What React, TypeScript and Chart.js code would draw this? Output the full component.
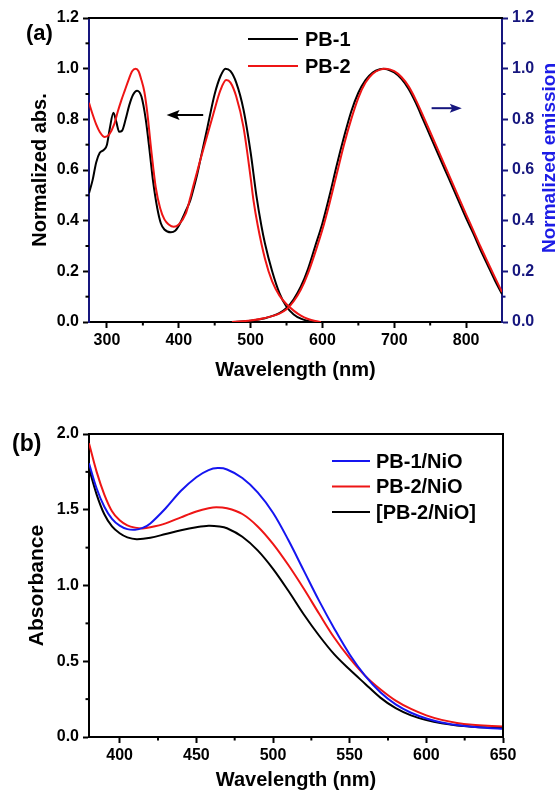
import React, { useEffect, useRef } from "react";
import { Chart, registerables } from "chart.js";

Chart.register(...registerables);

const FONT = "'Liberation Sans', Arial, Helvetica, sans-serif";
const NAVY = "#16167e";
const TITLE_BLUE = "#1c1ce6";
const RED = "#ee1515";
const BLUE = "#1515f0";
const BLACK = "#000000";

// ---------- Panel (a) data: [wavelength nm, normalized value] ----------
const pb1Abs: [number, number][] = [
  [275, 0.508], [280, 0.56], [285, 0.63], [290, 0.668], [296, 0.68], [300, 0.70], [304, 0.765],
  [309, 0.826], [313, 0.79], [317, 0.751], [321, 0.755], [326, 0.8], [331, 0.855], [336, 0.895],
  [342, 0.913], [348, 0.89], [354, 0.8], [360, 0.66], [364, 0.56], [370, 0.45], [375, 0.39],
  [380, 0.365], [389, 0.354], [395, 0.36], [400, 0.38], [410, 0.44], [416, 0.48], [420, 0.52],
  [425, 0.575], [430, 0.64], [440, 0.77], [450, 0.9], [458, 0.97], [465, 1.0], [472, 0.99],
  [480, 0.945], [490, 0.84], [500, 0.67], [508, 0.5], [515, 0.38], [520, 0.31], [530, 0.2],
  [540, 0.115], [550, 0.06], [560, 0.03], [570, 0.013], [580, 0.004], [592, 0.0],
];
const pb2Abs: [number, number][] = [
  [275, 0.865], [280, 0.82], [285, 0.78], [290, 0.75], [297, 0.73], [303, 0.74], [310, 0.78],
  [315, 0.83], [320, 0.875], [325, 0.915], [330, 0.955], [335, 0.99], [340, 1.0], [344, 0.99],
  [348, 0.955], [352, 0.91], [356, 0.83], [362, 0.67], [368, 0.53], [374, 0.45], [380, 0.405],
  [386, 0.385], [393, 0.376], [400, 0.385], [410, 0.43], [416, 0.49], [420, 0.535], [430, 0.64],
  [440, 0.74], [448, 0.82], [458, 0.915], [466, 0.955], [472, 0.945], [480, 0.89], [490, 0.77],
  [500, 0.57], [504, 0.48], [510, 0.38], [520, 0.25], [530, 0.16], [540, 0.105], [550, 0.07],
  [560, 0.045], [570, 0.025], [580, 0.012], [590, 0.004], [598, 0.0],
];
const pb1Em: [number, number][] = [
  [475, 0.0], [500, 0.005], [520, 0.015], [540, 0.035], [550, 0.055], [560, 0.09], [570, 0.14],
  [580, 0.21], [590, 0.3], [600, 0.39], [610, 0.5], [620, 0.62], [630, 0.73], [640, 0.83],
  [650, 0.905], [660, 0.955], [670, 0.985], [680, 0.998], [685, 1.0], [690, 0.998], [700, 0.985],
  [710, 0.96], [720, 0.92], [730, 0.865], [740, 0.8], [750, 0.735], [760, 0.67], [770, 0.605],
  [780, 0.54], [790, 0.475], [800, 0.41], [810, 0.35], [820, 0.285], [830, 0.225], [840, 0.165],
  [850, 0.11],
];
const pb2Em: [number, number][] = [
  [474, 0.0], [500, 0.006], [520, 0.016], [540, 0.033], [550, 0.05], [560, 0.082], [570, 0.128],
  [580, 0.193], [590, 0.275], [600, 0.365], [610, 0.47], [620, 0.585], [630, 0.7], [640, 0.8],
  [650, 0.885], [660, 0.945], [670, 0.98], [680, 0.996], [688, 1.0], [700, 0.99], [710, 0.967],
  [720, 0.93], [730, 0.877], [740, 0.815], [750, 0.75], [760, 0.685], [770, 0.62], [780, 0.555],
  [790, 0.49], [800, 0.425], [810, 0.362], [820, 0.298], [830, 0.237], [840, 0.177], [850, 0.118],
];
const xTicksA = [300, 400, 500, 600, 700, 800];
const xMinorA = [350, 450, 550, 650, 750];
const yTicksA = [0, 0.2, 0.4, 0.6, 0.8, 1.0, 1.2];
const yMinorA = [0.1, 0.3, 0.5, 0.7, 0.9, 1.1];
const legendA = ["PB-1", "PB-2"];
// arrow annotations: [tail wavelength, head wavelength, value]
const absArrow = [434, 383, 0.817];
const emArrow = [752, 794, 0.844];

// ---------- Panel (b) data ----------
const pb1NiO: [number, number][] = [
  [380, 1.807], [385, 1.64], [390, 1.52], [395, 1.44], [400, 1.395], [405, 1.372], [410, 1.368],
  [415, 1.38], [420, 1.41], [430, 1.51], [440, 1.625], [450, 1.715], [458, 1.762], [464, 1.775],
  [470, 1.766], [480, 1.71], [490, 1.615], [500, 1.48], [510, 1.3], [520, 1.1], [530, 0.9],
  [540, 0.715], [550, 0.545], [560, 0.405], [570, 0.295], [580, 0.215], [590, 0.16], [600, 0.122],
  [610, 0.096], [620, 0.079], [630, 0.067], [640, 0.06], [650, 0.055],
];
const pb2NiO: [number, number][] = [
  [380, 1.939], [385, 1.75], [390, 1.6], [395, 1.49], [400, 1.43], [405, 1.397], [410, 1.382],
  [415, 1.377], [420, 1.384], [430, 1.41], [440, 1.45], [450, 1.488], [458, 1.51], [463, 1.517],
  [470, 1.51], [480, 1.472], [490, 1.39], [500, 1.275], [510, 1.135], [520, 0.98], [530, 0.815],
  [540, 0.655], [550, 0.52], [560, 0.405], [570, 0.315], [580, 0.24], [590, 0.185], [600, 0.143],
  [610, 0.113], [620, 0.093], [630, 0.081], [640, 0.074], [650, 0.07],
];
const pb2NiOb: [number, number][] = [
  [380, 1.774], [385, 1.6], [390, 1.47], [395, 1.39], [400, 1.345], [405, 1.318], [411, 1.306],
  [420, 1.315], [430, 1.34], [440, 1.365], [450, 1.385], [458, 1.395], [465, 1.39], [470, 1.378],
  [480, 1.322], [490, 1.232], [500, 1.11], [510, 0.965], [520, 0.81], [530, 0.67], [540, 0.545],
  [550, 0.445], [560, 0.352], [570, 0.26], [580, 0.19], [590, 0.143], [600, 0.112], [610, 0.09],
  [620, 0.076], [630, 0.068], [640, 0.063], [650, 0.06],
];
const xTicksB = [400, 450, 500, 550, 600, 650];
const xMinorB = [425, 475, 525, 575, 625];
const yTicksB = [0, 0.5, 1.0, 1.5, 2.0];
const yMinorB = [0.25, 0.75, 1.25, 1.75];
const legendB = ["PB-1/NiO", "PB-2/NiO", "[PB-2/NiO]"];

const pts = (arr: [number, number][]) => arr.map(([x, y]) => ({ x, y }));

function minorTicks(spec: { axis: string; values: number[]; color: string }[]) {
  return {
    id: "minorTicks",
    afterDraw(chart: any) {
      const ctx = chart.ctx;
      spec.forEach((s) => {
        const scale = chart.scales[s.axis];
        ctx.save();
        ctx.strokeStyle = s.color;
        ctx.lineWidth = 2;
        s.values.forEach((v) => {
          const p = scale.getPixelForValue(v);
          ctx.beginPath();
          if (scale.isHorizontal()) {
            ctx.moveTo(p, scale.top);
            ctx.lineTo(p, scale.top + 3.5);
          } else if (scale.position === "left") {
            ctx.moveTo(scale.right, p);
            ctx.lineTo(scale.right - 3.5, p);
          } else {
            ctx.moveTo(scale.left, p);
            ctx.lineTo(scale.left + 3.5, p);
          }
          ctx.stroke();
        });
        ctx.restore();
      });
    },
  };
}

function drawArrow(ctx: any, x1: number, x2: number, y: number, color: string, headLen: number, headHalf: number) {
  const dir = Math.sign(x2 - x1);
  ctx.save();
  ctx.strokeStyle = color;
  ctx.fillStyle = color;
  ctx.lineWidth = 2;
  ctx.beginPath();
  ctx.moveTo(x1, y);
  ctx.lineTo(x2 - dir * headLen * 0.7, y);
  ctx.stroke();
  ctx.beginPath();
  ctx.moveTo(x2, y);
  ctx.lineTo(x2 - dir * headLen, y - headHalf);
  ctx.lineTo(x2 - dir * headLen * 0.8, y);
  ctx.lineTo(x2 - dir * headLen, y + headHalf);
  ctx.closePath();
  ctx.fill();
  ctx.restore();
}

function drawLegend(ctx: any, chart: any, labels: string[], x1: number, x2: number, tx: number, y0: number, dy: number) {
  ctx.save();
  ctx.font = `bold 20px ${FONT}`;
  ctx.textAlign = "left";
  ctx.textBaseline = "middle";
  labels.forEach((lab, i) => {
    const ds = chart.data.datasets.find((d: any) => d.label === lab);
    const y = y0 + i * dy;
    ctx.strokeStyle = ds.borderColor;
    ctx.lineWidth = 2;
    ctx.beginPath();
    ctx.moveTo(x1, y);
    ctx.lineTo(x2, y);
    ctx.stroke();
    ctx.fillStyle = BLACK;
    ctx.fillText(lab, tx, y + 1);
  });
  ctx.restore();
}

const tickFont = { size: 16, weight: "bold", family: FONT };
const titleFont = (size: number) => ({ size, weight: "bold", family: FONT });

function fixedTicks(values: number[]) {
  return (s: any) => {
    s.ticks = values.map((value) => ({ value }));
  };
}

const lineDefaults = { showLine: true, pointRadius: 0, borderWidth: 2, tension: 0.35, fill: false };

function PanelA() {
  const ref = useRef<HTMLCanvasElement>(null);
  useEffect(() => {
    const deco = {
      id: "decoA",
      afterDraw(chart: any) {
        const { ctx, chartArea: ca, scales } = chart;
        ctx.save();
        ctx.strokeStyle = BLACK;
        ctx.lineWidth = 2;
        ctx.beginPath();
        ctx.moveTo(ca.left - 1, ca.top);
        ctx.lineTo(ca.right + 1, ca.top);
        ctx.stroke();
        ctx.fillStyle = BLACK;
        ctx.font = `bold 22px ${FONT}`;
        ctx.textAlign = "left";
        ctx.textBaseline = "middle";
        ctx.fillText("(a)", 26, 34);
        ctx.save();
        ctx.translate(550, (ca.top + ca.bottom) / 2 - 12);
        ctx.rotate(-Math.PI / 2);
        ctx.fillStyle = TITLE_BLUE;
        ctx.font = `bold 19px ${FONT}`;
        ctx.textAlign = "center";
        ctx.textBaseline = "middle";
        ctx.fillText("Normalized emission", 0, 0);
        ctx.restore();
        ctx.restore();
        drawLegend(ctx, chart, legendA, ca.left + 159, ca.left + 209, ca.left + 216, 39, 27);
        const x = scales.x, y = scales.y;
        drawArrow(ctx, x.getPixelForValue(absArrow[0]), x.getPixelForValue(absArrow[1]), y.getPixelForValue(absArrow[2]), BLACK, 13, 5);
        drawArrow(ctx, x.getPixelForValue(emArrow[0]), x.getPixelForValue(emArrow[1]), y.getPixelForValue(emArrow[2]), NAVY, 12, 4.5);
      },
    };
    const chart = new Chart(ref.current as any, {
      type: "scatter",
      data: {
        datasets: [
          { label: "PB-2", data: pts(pb2Abs), borderColor: RED, yAxisID: "y", order: 0 },
          { label: "PB-1", data: pts(pb1Abs), borderColor: BLACK, yAxisID: "y", order: 1 },
          { label: "PB-2 emission", data: pts(pb2Em), borderColor: RED, yAxisID: "y2", order: 0 },
          { label: "PB-1 emission", data: pts(pb1Em), borderColor: BLACK, yAxisID: "y2", order: 1 },
        ],
      },
      options: {
        responsive: false,
        animation: false,
        layout: { padding: { top: 18, left: 0, right: 0, bottom: 0 } },
        plugins: { legend: { display: false }, tooltip: { enabled: false }, title: { display: false } },
        datasets: { scatter: { ...lineDefaults, cubicInterpolationMode: "monotone" } },
        scales: {
          x: {
            type: "linear",
            position: "bottom",
            min: 275,
            max: 850,
            afterBuildTicks: fixedTicks(xTicksA),
            afterFit: (s: any) => { s.height = 73; },
            ticks: { color: BLACK, font: tickFont, padding: 3, maxRotation: 0, autoSkip: false, callback: (v: any) => String(v) },
            grid: { display: true, drawOnChartArea: false, drawTicks: true, tickLength: 6, tickWidth: 2, tickColor: BLACK },
            border: { display: true, color: BLACK, width: 2 },
            title: { display: true, text: "Wavelength (nm)", color: BLACK, font: titleFont(20), padding: { top: 0, bottom: 13 } },
          },
          y: {
            type: "linear",
            position: "left",
            min: 0,
            max: 1.2,
            afterBuildTicks: fixedTicks(yTicksA),
            afterFit: (s: any) => { s.width = 89; },
            ticks: { color: BLACK, font: tickFont, padding: 4, callback: (v: any) => Number(v).toFixed(1) },
            grid: { display: true, drawOnChartArea: false, drawTicks: true, tickLength: 6, tickWidth: 2, tickColor: BLACK },
            border: { display: true, color: NAVY, width: 2 },
            title: { display: true, text: "Normalized abs.", color: BLACK, font: titleFont(20), padding: { top: 28, bottom: 0 } },
          },
          y2: {
            type: "linear",
            position: "right",
            min: 0,
            max: 1.2,
            afterBuildTicks: fixedTicks(yTicksA),
            afterFit: (s: any) => { s.width = 58; },
            ticks: { color: NAVY, font: tickFont, padding: 4, callback: (v: any) => Number(v).toFixed(1) },
            grid: { display: true, drawOnChartArea: false, drawTicks: true, tickLength: 6, tickWidth: 2, tickColor: NAVY },
            border: { display: true, color: NAVY, width: 2 },
            title: { display: false },
          },
        },
      } as any,
      plugins: [
        minorTicks([
          { axis: "x", values: xMinorA, color: BLACK },
          { axis: "y", values: yMinorA, color: BLACK },
          { axis: "y2", values: yMinorA, color: NAVY },
        ]),
        deco,
      ],
    } as any);
    return () => chart.destroy();
  }, []);
  return <canvas ref={ref} width={560} height={395} style={{ display: "block" }} />;
}

function PanelB() {
  const ref = useRef<HTMLCanvasElement>(null);
  useEffect(() => {
    const deco = {
      id: "decoB",
      afterDraw(chart: any) {
        const { ctx, chartArea: ca } = chart;
        ctx.save();
        ctx.strokeStyle = BLACK;
        ctx.lineWidth = 2;
        ctx.beginPath();
        ctx.moveTo(ca.left - 1, ca.top);
        ctx.lineTo(ca.right, ca.top);
        ctx.lineTo(ca.right, ca.bottom + 1);
        ctx.stroke();
        ctx.fillStyle = BLACK;
        ctx.font = `bold 23px ${FONT}`;
        ctx.textAlign = "left";
        ctx.textBaseline = "middle";
        ctx.fillText("(b)", 12, 50);
        ctx.restore();
        drawLegend(ctx, chart, legendB, ca.left + 243, ca.left + 281, ca.left + 287, 66, 25.5);
      },
    };
    const chart = new Chart(ref.current as any, {
      type: "scatter",
      data: {
        datasets: [
          { label: "PB-1/NiO", data: pts(pb1NiO), borderColor: BLUE, order: 0 },
          { label: "PB-2/NiO", data: pts(pb2NiO), borderColor: RED, order: 1 },
          { label: "[PB-2/NiO]", data: pts(pb2NiOb), borderColor: BLACK, order: 2 },
        ],
      },
      options: {
        responsive: false,
        animation: false,
        layout: { padding: { top: 39, left: 0, right: 57, bottom: 0 } },
        plugins: { legend: { display: false }, tooltip: { enabled: false }, title: { display: false } },
        datasets: { scatter: { ...lineDefaults } },
        scales: {
          x: {
            type: "linear",
            position: "bottom",
            min: 380,
            max: 650,
            afterBuildTicks: fixedTicks(xTicksB),
            afterFit: (s: any) => { s.height = 55; },
            ticks: { color: BLACK, font: tickFont, padding: 3, maxRotation: 0, autoSkip: false, callback: (v: any) => String(v) },
            grid: { display: true, drawOnChartArea: false, drawTicks: true, tickLength: 6, tickWidth: 2, tickColor: BLACK },
            border: { display: true, color: BLACK, width: 2 },
            title: { display: true, text: "Wavelength (nm)", color: BLACK, font: titleFont(20), padding: { top: 0, bottom: 0 } },
          },
          y: {
            type: "linear",
            position: "left",
            min: 0,
            max: 2,
            afterBuildTicks: fixedTicks(yTicksB),
            afterFit: (s: any) => { s.width = 89; },
            ticks: { color: BLACK, font: tickFont, padding: 4, callback: (v: any) => Number(v).toFixed(1) },
            grid: { display: true, drawOnChartArea: false, drawTicks: true, tickLength: 6, tickWidth: 2, tickColor: BLACK },
            border: { display: true, color: BLACK, width: 2 },
            title: { display: true, text: "Absorbance", color: BLACK, font: titleFont(21), padding: { top: 25, bottom: 0 } },
          },
        },
      } as any,
      plugins: [
        minorTicks([
          { axis: "x", values: xMinorB, color: BLACK },
          { axis: "y", values: yMinorB, color: BLACK },
        ]),
        deco,
      ],
    } as any);
    return () => chart.destroy();
  }, []);
  return <canvas ref={ref} width={560} height={397} style={{ display: "block" }} />;
}

export default function App() {
  return (
    <div style={{ position: "absolute", left: 0, top: 0, width: 560, height: 792, background: "#ffffff", overflow: "hidden" }}>
      <PanelA />
      <PanelB />
    </div>
  );
}
